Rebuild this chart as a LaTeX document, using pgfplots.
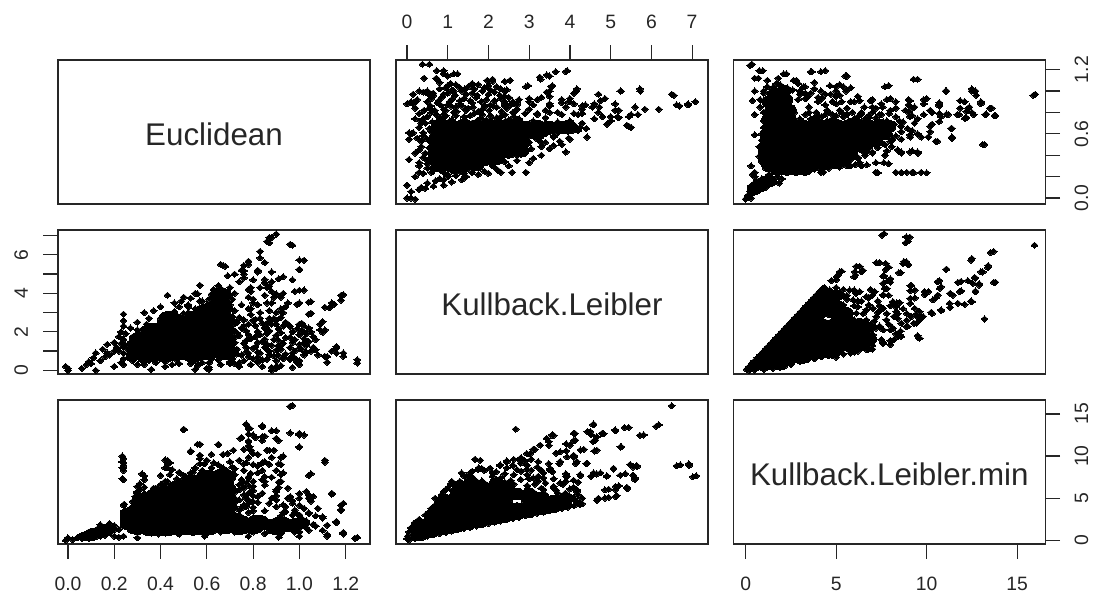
\documentclass[border=0pt]{standalone}
\usepackage{fontspec}
\setmainfont{Liberation Sans}
\usepackage{pgfplots}
\usepackage{pgfplotstable}
\pgfplotsset{compat=1.18}
\definecolor{txt}{HTML}{262626}
% ---------- Kullback.Leibler (kl) against Euclidean (e)
\pgfplotstableread[row sep=\\]{
kl e\\
0 0\\.1 0\\.2 -.01\\0 .12\\.1 .06\\.3 .08\\.45 .09\\.65 .11\\.9 .12\\1.1 .15\\1.35 .17\\.2 .2\\.4 .23\\.65 .26\\1 .22\\1.45 .2\\1.75 .22\\2 .23\\2.3 .24\\2.58 .24\\2.92 .24\\
.05 .36\\.3 .24\\.6 .24\\.9 .24\\1.2 .24\\1.6 .24\\1.9 .25\\.3 .3\\.5 .32\\.35 .48\\.55 .47\\.75 .5\\.35 .53\\.5 .55\\.7 .53\\.05 .61\\.15 .61\\.4 .61\\.6 .62\\.55 .65\\
.38 1.25\\.55 1.25\\.42 1.12\\.73 1.19\\.9 1.16\\1 1.14\\1.24 1.16\\.73 1.11\\.8 1.08\\.4 .99\\.56 .96\\.1 .9\\0 .88\\
3.26 1.13\\3.43 1.15\\3.65 1.18\\3.93 1.19\\2.92 1.04\\3.54 1.04\\3.43 .99\\4.16 1\\4.1 .98\\5.25 1\\5.73 1\\6.55 .96\\6.69 .86\\6.9 .87\\7.08 .9\\6.18 .83\\5.84 .83\\5.67 .78\\5.45 .76\\5.45 .67\\4.91 .69\\5.17 .76\\5.11 .88\\5.11 .82\\4.75 .91\\4.72 .85\\4.38 .87\\4.55 .85\\4.6 .74\\5 .76\\3.97 .56\\4.42 .57\\
1 1.05\\1.2 1.06\\1.5 1.04\\1.75 1.06\\2 1.05\\2.2 1.04\\1.97 1.1\\2.1 1.09\\2.4 1.09\\.45 .99\\.5 1\\1 .98\\1.15 1\\1.35 1\\1.6 .98\\1.85 1\\2.15 .99\\2.4 1\\
.6 .93\\.85 .94\\1.1 .92\\1.4 .93\\1.7 .94\\1.95 .92\\2.3 .93\\2.5 .94\\2.75 .92\\3 .93\\3.3 .94\\3.8 .92\\4 .93\\
.15 .88\\.75 .89\\1 .87\\1.3 .88\\1.6 .89\\2.05 .87\\2.4 .88\\2.7 .89\\3.1 .87\\3.5 .88\\3.8 .89\\4.1 .88\\
.55 .84\\.9 .83\\1.2 .85\\1.5 .84\\1.85 .83\\2.2 .85\\2.45 .84\\2.7 .83\\
.3 .79\\.6 .8\\.9 .78\\1.15 .8\\1.65 .79\\2.4 .78\\2.6 .8\\2.9 .79\\3.2 .79\\3.5 .8\\3.8 .78\\4.1 .79\\4.3 .79\\
.4 .74\\.8 .75\\1.1 .73\\1.4 .76\\1.8 .74\\2.2 .75\\2.5 .73\\
.35 .7\\.75 .71\\1.1 .69\\1.6 .7\\2.1 .71\\2.5 .69\\2.8 .71\\3.1 .72\\3.4 .7\\3.7 .71\\4 .72\\4.3 .7\\4.25 .66\\3.3 .48\\3.6 .49\\3.8 .5\\
2.4 .86\\2.4 .9\\2.4 .95\\2.45 1.01\\3.5 .95\\3.97 .9\\4.17 1.02\\3.57 1.05\\3.5 1\\2.97 1.05\\3.9 1.18\\3.5 1.14\\3.28 1.11\\2.53 1.1\\2.1 1.11\\1.6 1.07\\1.07 1.07\\1.15 1.16\\.72 1.12\\.9 1.19\\.2 .9\\.64 .98\\5.72 1.02\\6.5 .97\\5.24 1\\6.9 .88\\6.62 .87\\4.86 .93\\4.7 .97\\
.35 .72\\.5 .76\\.62 .71\\.72 .78\\.85 .73\\.95 .77\\1.05 .72\\1.2 .77\\1.32 .71\\1.45 .72\\1.55 .77\\1.72 .72\\1.85 .78\\1.95 .73\\2.05 .77\\2.15 .71\\2.3 .76\\2.42 .72\\2.62 .76\\2.75 .74\\
.42 .82\\.58 .86\\.68 .82\\.82 .87\\.95 .82\\1.08 .86\\1.22 .81\\1.35 .86\\1.45 .82\\1.62 .85\\1.75 .81\\1.92 .86\\2.02 .82\\2.12 .86\\2.32 .81\\2.55 .87\\2.65 .81\\
.5 .9\\.65 .96\\.78 .91\\.9 .97\\1.05 .9\\1.18 .96\\1.3 .91\\1.45 .97\\1.55 .91\\1.72 .96\\1.82 .9\\2 .97\\2.15 .91\\2.28 .96\\2.6 .9\\
.8 1.02\\.95 1.03\\1.1 1.01\\1.3 1.03\\1.42 1.02\\1.65 1.02\\1.9 1.03\\2.05 1.01\\2.3 1.02\\
3 .52\\3.2 .55\\3.4 .52\\3.6 .57\\3.75 .53\\3.1 .58\\3.4 .6\\3.7 .61\\3.95 .62\\4.2 .63\\3.05 .46\\2.7 .4\\2.95 .5\\
3.9 .43\\3.5 .46\\3.3 .4\\3.1 .37\\3 .33\\3.3 .52\\4 .55\\3.6 .58\\3.5 .62\\4.4 .65\\4.1 .68\\3.9 .7\\5.5 .66\\5.4 .68\\5 .72\\5.2 .75\\5.5 .78\\4.8 .76\\4.7 .8\\5.2 .82\\5.6 .85\\4.2 .78\\4.3 .83\\4.3 .86\\4.6 .88\\3.7 .8\\3.9 .85\\3.4 .75\\3.2 .78\\3.4 .82\\3.5 .86\\3 .83\\3 .9\\2.7 .87\\3.2 .92\\3 .68\\2.7 .35\\2.5 .3\\2.2 .27\\2.1 .3\\
.3 .33\\.4 .38\\.45 .42\\.3 .45\\.5 .35\\.2 .42\\.5 .28\\.4 .58\\.25 .56\\.3 .66\\.45 .7\\.2 .74\\.2 .84\\.1 .6\\.05 .55\\.25 .92\\.3 1\\.15 .97\\
.6 .28\\.9 .27\\1.2 .28\\1.5 .3\\1.8 .29\\2.1 .32\\2.4 .34\\.8 .18\\1 .2\\1.2 .21\\1.4 .23\\1.6 .24\\.7 .16\\.5 .14\\.35 .1\\.9 .17\\1.3 .25\\1.1 .26\\
}\tabA
\pgfplotstableread[row sep=\\]{
kl e\\
.8 .3\\1.1 .3\\1.4 .3\\1.7 .31\\.7 .36\\1 .36\\1.3 .36\\1.6 .36\\1.9 .36\\2.2 .37\\
.7 .42\\1 .42\\1.3 .42\\1.6 .42\\1.9 .42\\2.2 .42\\2.5 .43\\2.8 .44\\.8 .48\\1.1 .48\\1.4 .48\\1.7 .48\\2 .48\\2.3 .48\\2.6 .48\\
.7 .54\\1 .54\\1.3 .54\\1.6 .54\\1.9 .54\\2.2 .54\\2.5 .54\\2.8 .55\\.8 .6\\1.1 .6\\1.4 .6\\1.7 .6\\2 .6\\2.3 .6\\2.6 .6\\2.9 .6\\3.2 .6\\
.8 .68\\1.1 .67\\1.4 .68\\1.7 .67\\2 .68\\2.3 .67\\2.6 .68\\2.9 .66\\3.2 .67\\3.5 .66\\3.8 .66\\4 .66\\
}\coreA
% ---------- Kullback.Leibler.min (m) against Euclidean (e)
\pgfplotstableread[row sep=\\]{
m e\\
0 -.01\\.25 .06\\.5 .14\\1 .17\\1.76 .2\\1.9 .26\\.1 .02\\.4 .1\\.75 .15\\.38 .22\\.76 .39\\.76 .48\\.5 .59\\.5 .78\\.38 .91\\.5 1\\.25 1.24\\.76 1.19\\.5 1.12\\2.1 1.16\\3.66 1.18\\4.16 1.18\\5.5 1.14\\9.28 1.11\\7.7 1.04\\11.05 1\\12.5 1\\12.74 .96\\15.9 .96\\13.1 .5\\11.35 .65\\11.4 .56\\10.5 .53\\10.2 .67\\10.2 .62\\9.7 .57\\10.1 .57\\
7.64 .33\\7.2 .24\\8.3 .24\\8.6 .24\\8.9 .24\\9.2 .24\\9.7 .24\\9.08 .43\\9.53 .42\\8.6 .43\\8.07 .48\\7.57 .51\\6.7 .31\\6.05 .31\\4.16 .24\\5.55 .33\\
7.8 .92\\8.3 .9\\9.08 .91\\9.84 .92\\9.84 .88\\10.7 .86\\11.85 .91\\11.85 .84\\12.36 .85\\13 .88\\13.5 .84\\13.75 .77\\13.24 .78\\12.6 .78\\12.2 .81\\12.2 .75\\11.7 .78\\11.2 .78\\10.7 .79\\10.2 .82\\9.84 .78\\9.33 .85\\8.83 .82\\8.3 .84\\7.94 .79\\8.3 .76\\9.08 .76\\8.7 .71\\9.33 .7\\8.95 .65\\8.57 .67\\9.08 .59\\7.57 .85\\7 .85\\6.56 .85\\6.3 .91\\5.8 .9\\5 1.04\\5.4 1.04\\5.55 1\\4.66 1.05\\4.16 1\\3.8 1.02\\3.28 1.04\\2.65 1.1\\2.9 1.07\\2 1.02\\
8.6 .235\\10 .235\\9.3 .235\\7.3 .235\\7.9 .32\\6.4 .3\\5.7 .3\\9.5 .43\\8.6 .42\\7.7 .4\\13.2 .5\\11.4 .57\\10.6 .53\\10.1 .57\\9.5 .6\\11.4 .65\\9.2 .63\\8.6 .67\\10.3 .69\\10.7 .715\\13.8 .77\\13.3 .785\\13.6 .84\\13 .9\\12.1 .9\\12.3 .84\\12.1 .745\\11.1 .785\\10.3 .8\\9.2 .77\\10.7 .87\\10.7 .89\\10 .93\\9 .87\\9 .92\\8 .93\\16 .97\\12.7 1\\12.5 1.02\\11.1 1\\9.5 1.11\\7.9 1.05\\5.6 1.14\\5.8 1.03\\5.2 1.06\\4.4 1.19\\3.6 1.18\\2.25 1.16\\1.7 1.07\\.7 1.12\\.95 1.19\\.35 1.25\\4.4 .97\\3.6 .98\\4 .94\\6 .9\\6.2 .95\\7.2 .84\\6.4 .785\\5.6 .84\\4 .77\\4.4 .87\\2.8 1.1\\
.3 .3\\.3 0\\.3 .04\\.87 .1\\1.85 .14\\2 .18\\.5 .2\\.5 .24\\1.26 .2\\4.3 .243\\
3 .74\\3.6 .74\\4.2 .76\\4.8 .74\\5.4 .76\\6 .74\\6.6 .74\\7.2 .75\\7.8 .72\\2.7 .8\\3.5 .8\\4.6 .8\\5.2 .82\\5.9 .8\\6.4 .8\\7 .8\\2.9 .92\\3.4 .94\\4.2 .93\\4.8 .9\\5.3 .9\\3.3 .98\\4.7 .97\\5.2 .96\\6.9 .91\\
3.1 .72\\3.9 .71\\4.5 .72\\5.1 .7\\5.7 .72\\6.4 .71\\7 .7\\7.6 .71\\8.2 .69\\3.3 .78\\3.9 .8\\4.4 .78\\5 .77\\5.6 .78\\6.2 .76\\6.8 .77\\7.4 .78\\8.6 .62\\8.3 .58\\8.1 .54\\7.7 .5\\7.3 .47\\7 .43\\6.6 .42\\6.2 .38\\5.8 .36\\5.6 .3\\
1 1\\1.2 1.04\\1.5 1.03\\1.9 1.06\\2.3 1.03\\2.6 1.01\\3 1\\.8 .85\\.8 .92\\1 .8\\1 .72\\1 .66\\.9 .6\\.9 .54\\.8 .48\\1 .98\\1.2 1.1\\1.8 1.12\\.6 .16\\.9 .18\\1.3 .22\\1.6 .25\\.8 .1\\.45 .05\\.6 .1\\
3 .26\\3.8 .27\\4.6 .28\\5.2 .29\\5.8 .3\\6.3 .33\\7.2 .33\\5.6 .35\\6.2 .37\\6 .41\\6.6 .4\\7 .42\\7.8 .44\\8.4 .45\\9.2 .44\\6.8 .47\\7.3 .5\\8 .53\\8.6 .55\\9.1 .57\\
8.5 .72\\9.5 .74\\10.8 .76\\11.8 .78\\12.5 .8\\9 .8\\8 .82\\9.2 .84\\7.5 .78\\6.8 .75\\6 .72\\5 .72\\4 .72\\3.8 .75\\4.8 .78\\5.3 .8\\4.5 .82\\3.5 .85\\5 .88\\4 .9\\7 .92\\7.5 .88\\5 .95\\3 .97\\5 1\\3 1\\3.2 1.04\\3.8 1.08\\3.3 .93\\
}\tabB
\pgfplotstableread[row sep=\\]{
m e\\
.5 .09\\.9 .12\\1.3 .16\\1.8 .27\\2.3 .27\\2.8 .27\\3.3 .27\\1.3 .3\\2 .3\\2.6 .3\\3.2 .3\\3.8 .31\\4.4 .32\\5 .33\\1.1 .36\\1.6 .36\\2.2 .36\\2.8 .36\\3.4 .36\\4 .36\\4.6 .36\\5.2 .36\\
1.1 .42\\1.6 .42\\2.2 .42\\2.8 .42\\3.4 .42\\4 .42\\4.6 .42\\5.2 .42\\5.8 .42\\1.2 .48\\1.8 .48\\2.4 .48\\3 .48\\3.6 .48\\4.2 .48\\4.8 .48\\5.4 .48\\6 .48\\6.5 .48\\
1.2 .54\\1.8 .54\\2.4 .54\\3 .54\\3.6 .54\\4.2 .54\\4.8 .54\\5.4 .54\\6 .54\\6.6 .54\\7.1 .54\\1.2 .6\\1.8 .6\\2.4 .6\\3 .6\\3.6 .6\\4.2 .6\\4.8 .6\\5.4 .6\\6 .6\\6.6 .6\\7.2 .6\\7.7 .6\\
1.4 .68\\2 .67\\2.6 .68\\3.2 .67\\3.8 .68\\4.4 .67\\5 .68\\5.6 .67\\6.2 .68\\6.8 .67\\7.4 .68\\7.9 .67\\1.3 .74\\1.9 .78\\2.4 .74\\1.4 .8\\1.9 .86\\2.4 .82\\1.3 .9\\2.2 .92\\1.6 .97\\2.1 1\\
}\coreB
% ---------- Kullback.Leibler.min (m) against Kullback.Leibler (kl)
\pgfplotstableread[row sep=\\]{
m kl\\
.05 .05\\.2 .2\\.35 .35\\.5 .5\\.65 .65\\.8 .8\\.95 .95\\1.1 1.1\\1.25 1.25\\1.4 1.4\\1.55 1.55\\1.7 1.7\\1.85 1.85\\2 2\\2.15 2.15\\2.3 2.3\\2.45 2.45\\2.6 2.6\\2.75 2.75\\2.9 2.9\\3.05 3.05\\3.2 3.2\\3.35 3.35\\3.5 3.5\\3.65 3.65\\3.8 3.8\\3.95 3.95\\4.1 4.1\\4.25 4.25\\4.35 4.3\\
.2 0\\.5 .02\\1 .05\\1.5 .1\\2 .2\\2.5 .3\\3 .45\\3.4 .55\\3.8 .6\\4.2 .7\\4.6 .75\\5 .8\\5.4 .85\\5.8 .9\\6.2 1\\6.7 1.07\\7 1.3\\7.6 1.41\\8.2 1.6\\8.6 1.76\\9.6 1.67\\9.5 1.8\\
7.54 7.02\\8.88 6.93\\8.84 6.62\\15.96 6.5\\13.53 6.12\\12.46 5.72\\8.88 5.64\\8.7 5.55\\7.22 5.59\\7.74 5.55\\7.74 5.24\\6.12 5.41\\6.03 5.12\\6.4 5.12\\5.99 4.86\\5.2 5.12\\5.02 4.86\\4.74 4.66\\
11.08 5.24\\8.46 5.07\\13.38 5.34\\13 5.12\\12.65 4.83\\13.7 4.57\\11.73 4.57\\12.28 4.66\\12.55 4.52\\12.9 4.43\\12.7 4.12\\12.46 3.6\\10.6 4.6\\7.6 4.9\\7.87 4.66\\7.6 4.52\\7.68 4.26\\9.1 4.4\\9.1 4.14\\9.1 3.74\\9.1 3.48\\9.89 4.09\\10.72 4.26\\10.62 3.91\\10.35 3.66\\11.82 4.09\\11.45 3.91\\11.27 3.48\\11.73 3.48\\10.8 3.14\\10.26 3.02\\13.2 2.67\\
5.75 4.17\\6.3 4.09\\6.67 3.83\\7.13 4.09\\7.6 3.91\\8.14 3.57\\8.51 3.52\\7.04 3.22\\7.6 3.22\\8.33 3.05\\9.34 3.22\\9.61 3.05\\9.15 2.79\\9.61 2.62\\8.88 2.28\\9.43 2.45\\8.6 2.45\\8.14 2.19\\7.6 2.1\\7.04 1.84\\8.51 1.84\\9.61 1.67\\6.67 1.24\\7.6 1.45\\
5.94 3.66\\5.39 3.91\\5.02 4.09\\4.65 4.17\\5.02 3.66\\6.67 3.14\\6.12 2.97\\7.22 2.79\\7.78 2.62\\6.67 2.62\\6 2.62\\6.67 2.1\\7.2 2.2\\6 1.84\\6.5 1.6\\5.9 1.4\\8 1.55\\7.5 1.6\\8.3 1.9\\8 2.1\\6 .95\\7 1.1\\4.6 3.2\\5.4 3.4\\6.2 3.3\\7.8 2.95\\8.9 2.6\\8.4 2.7\\
5.5 2.8\\6.1 2.3\\6.9 2.4\\6.5 2.95\\7.1 2.55\\7.4 2.3\\7.9 2.4\\8.2 2.8\\7.3 3\\6.8 3.4\\6.2 3.6\\5.6 3.7\\7.3 3.6\\8 3.35\\7 3.9\\6.9 4.2\\6.1 4\\5.4 4.2\\5 4.3\\8.7 3.2\\8.9 2.95\\9.4 2.9\\9.8 2.8\\8.3 3.3\\7.9 3.9\\
12.1 3.43\\12.5 3.56\\11.3 3.27\\10.8 3.1\\10.3 2.94\\9.7 2.78\\9.3 2.45\\8.95 2.29\\8.56 2.04\\8.4 1.75\\8 1.34\\6.8 1.1\\5 .69\\
10.5 3.76\\12.7 4.09\\11.9 4.13\\11.3 4\\9.35 4.17\\9.15 4.42\\9.9 3.93\\10.1 4.09\\9.35 3.76\\8.36 3.5\\7.4 3.1\\7.4 3.35\\8.4 2.94\\9.5 2.78\\6.4 3.6\\6 3.35\\6.8 3.76\\7.6 3.93\\7.8 4.25\\6 4.17\\5.6 3.89\\4.4 4.25\\
8 4.58\\8 4.75\\7.65 4.91\\7.9 5.36\\9 5.48\\8.75 5.65\\7.4 5.6\\8.56 5.07\\13.8 4.58\\12.9 4.5\\11.9 4.62\\10.8 4.34\\10.7 4.66\\12.7 4.79\\13.1 5.11\\13.4 5.44\\12.5 5.81\\13.7 6.18\\11.1 5.26\\8.95 6.71\\9.07 6.92\\7.65 7.1\\6.07 4.95\\5 4.7\\5.1 4.95\\5.3 5.15\\6.47 5.2\\6.3 5.4\\
}\tabC
\pgfplotstableread[row sep=\\]{
m kl\\
.6 .3\\1.2 .3\\1.9 .3\\1 .6\\1.7 .6\\2.4 .6\\3.1 .65\\1.3 .9\\2 .9\\2.7 .9\\3.4 .9\\4.1 .9\\4.8 .92\\
1.6 1.2\\2.3 1.2\\3 1.2\\3.7 1.2\\4.4 1.2\\5.1 1.2\\5.8 1.25\\6.4 1.3\\1.9 1.5\\2.6 1.5\\3.3 1.5\\4 1.5\\4.7 1.5\\5.4 1.5\\6.1 1.5\\6.8 1.6\\
2.2 1.8\\2.9 1.8\\3.6 1.8\\4.3 1.8\\5 1.8\\5.7 1.8\\6.4 1.85\\2.5 2.1\\3.2 2.1\\3.9 2.1\\4.6 2.1\\5.3 2.1\\6 2.1\\6.7 2.2\\
2.8 2.4\\3.5 2.4\\4.2 2.4\\4.9 2.4\\5.6 2.4\\6.3 2.4\\3.1 2.7\\3.8 2.7\\5.5 2.7\\3.4 3\\4.1 3\\4.8 3\\5.5 3\\3.7 3.3\\4.4 3.3\\5.1 3.3\\4 3.6\\4.7 3.6\\4.3 3.85\\5 3.9\\
}\coreC

\tikzset{diag/.style={font=\fontsize{23.5}{24}\selectfont,text=txt,yshift=-2pt}}
\pgfplotsset{
  pp/.style={
    scale only axis, width=234pt, height=108pt,
    axis line style={line width=1pt,color=black!85},
    tick style={line width=.9pt,color=black!85},
    tick align=outside, major tick length=11pt,
    xtick=\empty, ytick=\empty, xtick pos=bottom, ytick pos=left,
    tick label style={font=\fontsize{14.5}{14.5}\selectfont,text=txt},
    clip=true},
  small/.style={only marks,mark=diamond*,mark size=2.3pt,
    mark options={fill=black,draw=black,line width=0pt,xscale=1.5}},
  core/.style 2 args={only marks,mark=*,mark size=4.6pt,
    mark options={fill=black,draw=black,line width=0pt,xscale=#1,yscale=#2}},
  xE/.style={xmin=-.043,xmax=1.305},
  xK/.style={xmin=-.27,xmax=7.39},
  xM/.style={xmin=-.68,xmax=16.56},
  yE/.style={ymin=-.056,ymax=1.29},
  yK/.style={ymin=-.19,ymax=7.29},
  yM/.style={ymin=-.43,ymax=16.65},
  top labels/.style={x tick label style={yshift=9pt}},
  bottom labels/.style={x tick label style={yshift=-10.5pt}},
  right labels/.style={y tick label style={xshift=7.5pt,rotate=90,anchor=north}},
  left labels/.style={y tick label style={xshift=-8pt,rotate=90,anchor=south}},
}
\begin{document}
\begin{tikzpicture}
\useasboundingbox (0,0) rectangle (822.75pt,447pt);
% row 1
\begin{axis}[pp,at={(43.5pt,294pt)},anchor=south west,xE,yE]
\node[diag] at (rel axis cs:.5,.5) {Euclidean};
\end{axis}
\begin{axis}[pp,at={(297pt,294pt)},anchor=south west,xK,yE,
  xtick={0,1,2,3,4,5,6,7},xticklabels={0,1,2,3,4,5,6,7},xtick pos=top,xticklabel pos=top,top labels]
\addplot[small] table[x=kl,y=e] {\tabA};
\addplot[core={1.3}{1}] table[x=kl,y=e] {\coreA};
\end{axis}
\begin{axis}[pp,at={(550pt,294pt)},anchor=south west,xM,yE,
  ytick={0,.2,.4,.6,.8,1,1.2},yticklabels={0.0,,,0.6,,,1.2},ytick pos=right,yticklabel pos=right,right labels]
\addplot[small] table[x=m,y=e] {\tabB};
\addplot[core={1.2}{1}] table[x=m,y=e] {\coreB};
\end{axis}
% row 2
\begin{axis}[pp,at={(43.5pt,166.5pt)},anchor=south west,xE,yK,
  ytick={0,1,2,3,4,5,6,7},yticklabels={0,,2,,4,,6,},left labels]
\addplot[small] table[x=e,y=kl] {\tabA};
\addplot[core={1.7}{.8}] table[x=e,y=kl] {\coreA};
\end{axis}
\begin{axis}[pp,at={(297pt,166.5pt)},anchor=south west,xK,yK]
\node[diag] at (rel axis cs:.5,.5) {Kullback.Leibler};
\end{axis}
\begin{axis}[pp,at={(550pt,166.5pt)},anchor=south west,xM,yK]
\addplot[small] table[x=m,y=kl] {\tabC};
\addplot[core={1.3}{.9}] table[x=m,y=kl] {\coreC};
\end{axis}
% row 3
\begin{axis}[pp,at={(43.5pt,39pt)},anchor=south west,xE,yM,
  xtick={0,.2,.4,.6,.8,1,1.2},xticklabels={0.0,0.2,0.4,0.6,0.8,1.0,1.2},bottom labels]
\addplot[small] table[x=e,y=m] {\tabB};
\addplot[core={1.7}{.8}] table[x=e,y=m] {\coreB};
\end{axis}
\begin{axis}[pp,at={(297pt,39pt)},anchor=south west,xK,yM]
\addplot[small] table[x=kl,y=m] {\tabC};
\addplot[core={1.3}{.9}] table[x=kl,y=m] {\coreC};
\end{axis}
\begin{axis}[pp,at={(550pt,39pt)},anchor=south west,xM,yM,
  xtick={0,5,10,15},xticklabels={0,5,10,15},bottom labels,
  ytick={0,5,10,15},yticklabels={0,5,10,15},ytick pos=right,yticklabel pos=right,right labels]
\node[diag] at (rel axis cs:.5,.5) {Kullback.Leibler.min};
\end{axis}
\end{tikzpicture}
\end{document}
